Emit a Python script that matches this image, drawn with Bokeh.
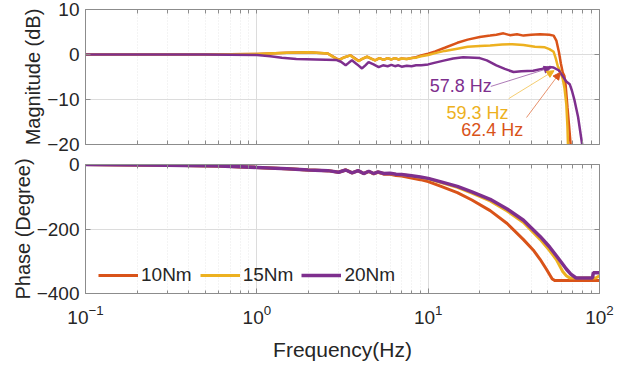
from bokeh.plotting import figure
from bokeh.layouts import column
from bokeh.models import (FixedTicker, LogAxis, LinearAxis, LogTickFormatter, Legend,
                          LegendItem, Arrow, NormalHead, ColumnDataSource, Range1d)
from bokeh.core.properties import value
from bokeh.embed import file_html
from bokeh.resources import INLINE

FONT = "Liberation Sans"
C10, C15, C20 = "#D95319", "#EDB120", "#7E2F8E"
AXC = "#8c8c8c"
TXT = "#262626"

series_names = ["10Nm", "15Nm", "20Nm"]

# ---------------- magnitude data (dB) ----------------
mag_f_10 = [0.1, 0.5, 1.0, 1.5, 2.0, 2.6, 3.01, 3.25, 3.52, 3.72, 3.93, 4.15, 4.40, 4.65, 4.90,
            5.2, 5.5, 5.8, 6.1, 6.4, 6.7, 7.0, 7.5, 8.0, 8.5, 9.1, 10, 11, 12.5, 14.8, 17, 20,
            23, 25, 27.5, 30, 33, 36, 40, 45, 51, 54, 56, 58, 59.5, 61, 62.4, 63.5, 65, 66.5, 68]
mag_db_10 = [0, 0, 0.1, 0.4, 0.5, 0.2, -1.2, -0.6, -0.2, -0.8, -1.4, -0.9, -0.5, -0.9, -1.3,
             -0.8, -1.2, -0.8, -1.1, -0.8, -1.1, -0.9, -1.0, -0.8, -0.6, -0.2, 0.2, 0.7, 1.5, 2.6, 3.3, 3.9,
             4.2, 4.4, 4.7, 4.3, 4.5, 4.2, 4.4, 4.5, 4.4, 4.2, 3.1, 0.5, -2.0, -4.0, -4.8, -7.0, -11.7, -16, -20.5]

mag_f_15 = [0.1, 0.5, 1.0, 1.5, 2.0, 2.6, 3.01, 3.25, 3.52, 3.72, 3.93, 4.15, 4.40, 4.65, 4.90,
            5.2, 5.5, 5.8, 6.1, 6.4, 6.7, 7.0, 7.5, 8.0, 8.5, 9.1, 10, 11, 12.5, 14.8, 17, 20,
            23, 27, 31, 36, 42, 48, 51, 54, 55.5, 57, 59.3, 61, 62.5, 64, 65, 65.5]
mag_db_15 = [0, 0, 0.1, 0.4, 0.5, 0.2, -1.3, -0.6, -0.2, -0.9, -1.5, -0.9, -0.5, -0.9, -1.3,
             -0.8, -1.2, -0.8, -1.1, -0.8, -1.1, -0.9, -1.0, -0.8, -0.7, -0.4, -0.1, 0.3, 0.8, 1.3, 1.7, 1.9,
             2.0, 2.2, 2.3, 2.1, 1.7, 1.6, 1.2, 0.6, -0.8, -2.5, -4.0, -5.4, -7.5, -11, -16, -20.5]

mag_f_20 = [0.1, 0.5, 1.0, 1.2, 1.4, 1.7, 2.2, 2.9, 3.1, 3.3, 3.45, 3.59, 3.85, 4.11, 4.3, 4.49,
            4.8, 5.14, 5.45, 5.8, 6.1, 6.4, 6.7, 7.0, 7.5, 8.0, 8.5, 9.1, 10, 11, 12.5, 14, 16, 18.6,
            20, 22, 25, 28, 31.5, 35, 41, 46, 51, 54, 57.8, 61, 64, 67, 69, 71.5, 75, 78.5, 80]
mag_db_20 = [0, 0, -0.1, -0.4, -0.7, -1.0, -1.1, -1.2, -1.6, -2.4, -1.8, -1.3, -2.2, -3.1, -2.4, -1.7,
             -2.2, -2.8, -2.4, -2.6, -2.3, -2.6, -2.4, -2.7, -2.5, -2.6, -2.4, -2.4, -2.2, -1.8, -1.3, -0.9, -0.6, -0.7,
             -0.8, -1.3, -2.4, -3.2, -3.9, -3.7, -3.6, -3.2, -2.8, -2.9, -3.5, -4.8, -6.0, -6.6, -8.0, -10.2, -13.9, -19.0, -21]

# ---------------- phase data (deg) ----------------
ph_f_10 = [0.1, 0.3, 0.6, 1.0, 1.5, 2.0, 2.6, 3.0, 3.3, 3.6, 3.9, 4.2, 4.5, 4.8, 5.1, 5.5, 6.0, 6.5,
           7.0, 8.0, 9.0, 10, 11.9, 14.8, 18, 23, 28.9, 36, 41, 45, 49, 53, 55, 70, 85, 100]
ph_deg_10 = [0, -2, -5, -9, -13, -17, -19, -24, -17, -26, -19, -28, -21, -29, -24, -30, -30, -34,
             -36, -42, -47, -53, -68, -87, -110, -143, -183, -233, -265, -294, -325, -355, -360, -360, -360, -360]

ph_f_15 = [0.1, 0.3, 0.6, 1.0, 1.5, 2.0, 2.6, 3.0, 3.3, 3.6, 3.9, 4.2, 4.5, 4.8, 5.1, 5.5, 6.0, 6.5,
           7.0, 8.0, 9.0, 10, 11.9, 14.8, 18, 23, 28.9, 36, 45, 51, 56, 61, 64, 67, 80, 95, 100]
ph_deg_15 = [0, -2, -5, -9, -13, -17, -19, -24, -17, -26, -19, -28, -21, -28, -23, -28, -28, -31,
             -32, -36, -40, -44, -56, -71, -89, -113, -144, -180, -232, -266, -295, -332, -345, -352, -352, -352, -345]

ph_f_20 = [0.1, 0.3, 0.6, 1.0, 1.5, 2.0, 2.6, 3.0, 3.3, 3.6, 3.9, 4.2, 4.5, 4.8, 5.1, 5.5, 6.0, 6.5,
           7.0, 8.0, 9.0, 10, 11.9, 14.8, 18, 23, 28.9, 36, 45, 51, 56, 60, 64, 68, 73, 80, 91, 92, 100]
ph_deg_20 = [0, -2, -5, -9, -13, -17, -19, -24, -17, -26, -19, -28, -21, -28, -23, -28, -27, -30,
             -31, -35, -39, -43, -54, -68, -85, -108, -138, -173, -223, -255, -283, -304, -324, -340, -352, -352, -352, -336, -336]

# ---------------- annotations ----------------
ann_text = ["57.8 Hz", "59.3 Hz", "62.4 Hz"]
ann_colors = [C20, C15, C10]
ann_text_f = [10.2, 12.8, 15.6]
ann_text_db = [-7.1, -12.9, -16.7]
ann_tail_f = [23.2, 29.5, 37.5]
ann_tail_db = [-7.1, -9.8, -14.0]
ann_tip_f = [52.2, 54.3, 58.9]
ann_tip_db = [-2.9, -3.6, -4.0]

x_decades = [0.1, 1, 10, 100]
x_minors = [m * d for d in [0.1, 1, 10] for m in range(2, 10)]
mag_ticks = [-20, -10, 0, 10]
ph_ticks = [-400, -200, 0]


def style_axis(ax):
    ax.axis_line_color = AXC
    ax.major_tick_line_color = AXC
    ax.minor_tick_line_color = AXC
    ax.major_tick_in = 5
    ax.major_tick_out = 0
    ax.minor_tick_in = 3
    ax.minor_tick_out = 0
    ax.major_label_text_font = FONT
    ax.major_label_text_font_size = "19px"
    ax.major_label_text_color = TXT
    ax.axis_label_text_font = FONT
    ax.axis_label_text_font_size = "20px"
    ax.axis_label_text_font_style = "normal"
    ax.axis_label_text_color = TXT


def make_fig(height, ylim, yticks, btop, bbot, show_x_labels):
    p = figure(width=611, height=height, x_axis_type="log",
               x_range=Range1d(0.1, 100), y_range=Range1d(*ylim),
               output_backend="svg", toolbar_location=None,
               margin=(0, 0, 0, 8),
               min_border_left=71, min_border_right=20,
               min_border_top=btop, min_border_bottom=bbot)
    p.outline_line_color = AXC
    p.background_fill_color = "white"
    p.border_fill_color = "white"
    # grids
    p.xgrid.ticker = FixedTicker(ticks=x_decades, minor_ticks=x_minors)
    p.xgrid.grid_line_color = "#dcdcdc"
    p.xgrid.minor_grid_line_color = "#e8e8e8"
    p.xgrid.minor_grid_line_dash = "1 2"
    p.ygrid.ticker = FixedTicker(ticks=yticks)
    p.ygrid.grid_line_color = "#dcdcdc"
    # x axis (below)
    xa = p.below[0]
    style_axis(xa)
    if show_x_labels:
        xa.ticker = FixedTicker(ticks=x_decades, minor_ticks=x_minors)
        xa.formatter = LogTickFormatter()
        xa.major_label_standoff = 11
    else:
        xa.ticker = FixedTicker(ticks=[], minor_ticks=x_decades[1:-1] + x_minors)
        xa.minor_tick_in = 4
    # y axis (left)
    ya = p.left[0]
    style_axis(ya)
    ya.ticker = FixedTicker(ticks=yticks)
    ya.major_label_standoff = 6
    ya.axis_label_standoff = 0
    # top and right box axes, ticks only
    top = LogAxis(ticker=FixedTicker(ticks=[], minor_ticks=x_decades[1:-1] + x_minors))
    style_axis(top)
    top.minor_tick_in = 4
    p.add_layout(top, "above")
    right = LinearAxis(ticker=FixedTicker(ticks=[], minor_ticks=yticks[1:-1]))
    style_axis(right)
    right.minor_tick_in = 5
    p.add_layout(right, "right")
    return p, xa, ya


# ---------------- magnitude figure ----------------
p1, xa1, ya1 = make_fig(154, (-20, 10), mag_ticks, 9, 10, False)
ya1.axis_label = "Magnitude (dB)"
p1.line(mag_f_10, mag_db_10, line_color=C10, line_width=2.5)
p1.line(mag_f_15, mag_db_15, line_color=C15, line_width=2.5)
p1.line(mag_f_20, mag_db_20, line_color=C20, line_width=2.5)

for i in range(3):
    p1.add_layout(Arrow(end=NormalHead(size=7, fill_color=ann_colors[i], line_color=ann_colors[i]),
                        x_start=ann_tail_f[i], y_start=ann_tail_db[i],
                        x_end=ann_tip_f[i], y_end=ann_tip_db[i],
                        line_color=ann_colors[i], line_width=0.8, line_alpha=0.8))
ann_src = ColumnDataSource(dict(x=ann_text_f, y=ann_text_db, t=ann_text, c=ann_colors))
p1.text(x="x", y="y", text="t", text_color="c", source=ann_src,
        text_font=value(FONT), text_font_size="18px",
        text_align="left", text_baseline="middle")

# ---------------- phase figure ----------------
p2, xa2, ya2 = make_fig(209, (-400, 0), ph_ticks, 10, 70, True)
ya2.axis_label = "Phase (Degree)"
xa2.axis_label = "Frequency(Hz)"
xa2.axis_label_text_font_size = "21px"
xa2.axis_label_standoff = 11
r10 = p2.line(ph_f_10, ph_deg_10, line_color=C10, line_width=3)
r15 = p2.line(ph_f_15, ph_deg_15, line_color=C15, line_width=3)
r20 = p2.line(ph_f_20, ph_deg_20, line_color=C20, line_width=3.5)

legend = Legend(items=[LegendItem(label=series_names[0], renderers=[r10]),
                       LegendItem(label=series_names[1], renderers=[r15]),
                       LegendItem(label=series_names[2], renderers=[r20])],
                orientation="horizontal", location=(13, 7),
                glyph_width=40, glyph_height=18, label_height=18, label_standoff=3,
                spacing=8, padding=0, margin=0,
                label_text_font=FONT, label_text_font_size="19px", label_text_color=TXT,
                background_fill_alpha=0, border_line_alpha=0)
p2.add_layout(legend)

layout = column(p1, p2, spacing=0)
open("out.html", "w").write(file_html(layout, INLINE))
